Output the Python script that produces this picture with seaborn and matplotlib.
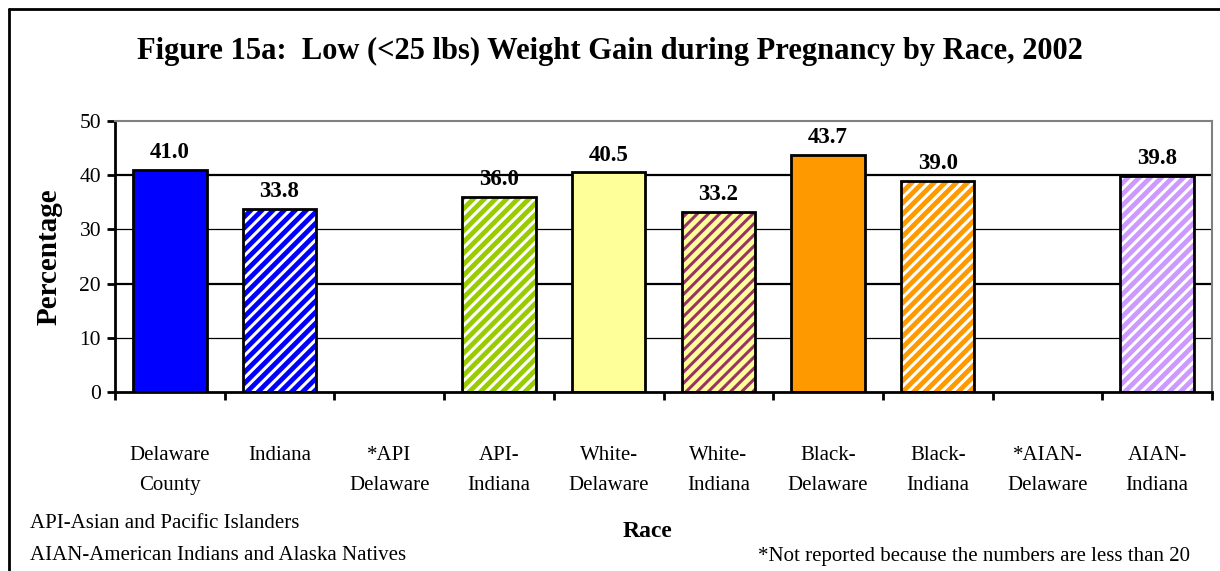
import numpy as np
import pandas as pd
import matplotlib
matplotlib.use("Agg")
import matplotlib.pyplot as plt
import seaborn as sns
from matplotlib.patches import Rectangle
from matplotlib.lines import Line2D

# data (nan = not reported)
categories = ["Delaware\nCounty", "Indiana", "*API\nDelaware", "API-\nIndiana",
              "White-\nDelaware", "White-\nIndiana", "Black-\nDelaware",
              "Black-\nIndiana", "*AIAN-\nDelaware", "AIAN-\nIndiana"]
percentages = [41.0, 33.8, np.nan, 36.0, 40.5, 33.2, 43.7, 39.0, np.nan, 39.8]
fill_colors = ["#0000FF", "#0000FF", "#FFFFFF", "#99CC00", "#FFFF99",
               "#FFFF99", "#FF9900", "#FF9900", "#FFFFFF", "#CC99FF"]
stripe_colors = [None, "white", None, "white", None, "#993366", None,
                 "white", None, "white"]
y_ticks = [0, 10, 20, 30, 40, 50]

title = "Figure 15a:  Low (<25 lbs) Weight Gain during Pregnancy by Race, 2002"
note_left = ["API-Asian and Pacific Islanders",
             "AIAN-American Indians and Alaska Natives"]
note_right = "*Not reported because the numbers are less than 20"

sns.set_theme(style="white")
plt.rcParams["font.family"] = ["Liberation Serif", "DejaVu Serif"]
plt.rcParams["hatch.linewidth"] = 2.2
for key in ["text.color", "axes.labelcolor", "xtick.color", "ytick.color"]:
    plt.rcParams[key] = "black"

df = pd.DataFrame({"Race": categories, "Percentage": percentages})

fig = plt.figure(figsize=(12.2, 5.71), dpi=100)
ax = fig.add_axes([115 / 1220, 1 - 392 / 571, 1097 / 1220, 271 / 571])

sns.barplot(data=df.dropna(), x="Race", y="Percentage", hue="Race",
            order=categories, hue_order=categories,
            palette=dict(zip(categories, fill_colors)), saturation=1,
            width=0.67, edgecolor="black", linewidth=2, legend=False, ax=ax)

# striped bars: hatch in the stripe colour, then a black outline on top
for p in list(ax.patches):
    idx = int(round(p.get_x() + p.get_width() / 2))
    stripe = stripe_colors[idx]
    if stripe is None:
        continue
    p.set_hatch("///")
    p.set_edgecolor(stripe)
    p.set_linewidth(0)
    ax.add_patch(Rectangle(p.get_xy(), p.get_width(), p.get_height(),
                           fill=False, edgecolor="black", linewidth=2,
                           zorder=p.get_zorder() + 0.1))

for c in ax.containers:
    ax.bar_label(c, fmt="%.1f", padding=5, fontsize=16.5, fontweight="bold")

ax.set_ylim(0, 50)
ax.set_xlim(-0.5, len(categories) - 0.5)
ax.set_yticks(y_ticks)
ax.tick_params(axis="y", labelsize=15.5, direction="out", length=6,
               width=2, left=True, color="black", pad=4)
ax.tick_params(axis="x", which="major", length=0, labelsize=15, pad=39)
ax.set_xticks(np.arange(len(categories) + 1) - 0.5, minor=True)
ax.tick_params(axis="x", which="minor", direction="out", length=6,
               width=2, bottom=True, color="black")
for lbl in ax.get_xticklabels():
    lbl.set_linespacing(1.75)

ax.yaxis.grid(True, color="black")
ax.set_axisbelow(True)
for val, gl in zip(y_ticks, ax.get_ygridlines()):
    gl.set_linewidth(1.6 if val in (20, 40) else 0.9)
    if val in (0, 50):
        gl.set_visible(False)

for side in ["left", "bottom"]:
    ax.spines[side].set_color("black")
    ax.spines[side].set_linewidth(2)
for side in ["top", "right"]:
    ax.spines[side].set_color("#808080")
    ax.spines[side].set_linewidth(1.5)

ax.set_ylabel("Percentage", fontsize=21, fontweight="bold", labelpad=12)
ax.set_xlabel("Race", fontsize=17, fontweight="bold")
ax.xaxis.set_label_coords((647 - 115) / 1097, (392 - 521) / 271)

fig.text(0.5, 1 - 51 / 571, title, ha="center", va="center",
         fontsize=22, fontweight="bold")
fig.text(30 / 1220, 1 - 523 / 571, note_left[0], ha="left", va="center", fontsize=15)
fig.text(30 / 1220, 1 - 556 / 571, note_left[1], ha="left", va="center", fontsize=15)
fig.text(1190 / 1220, 1 - 556 / 571, note_right, ha="right", va="center", fontsize=15)

# outer frame (only left and top edges fall inside the picture)
fig.add_artist(Line2D([8.5 / 1220, 8.5 / 1220], [0, 1 - 8.5 / 571],
                      transform=fig.transFigure, color="black", linewidth=2))
fig.add_artist(Line2D([8.5 / 1220, 1], [1 - 8.5 / 571, 1 - 8.5 / 571],
                      transform=fig.transFigure, color="black", linewidth=2))

fig.savefig("out.png", dpi=100)
